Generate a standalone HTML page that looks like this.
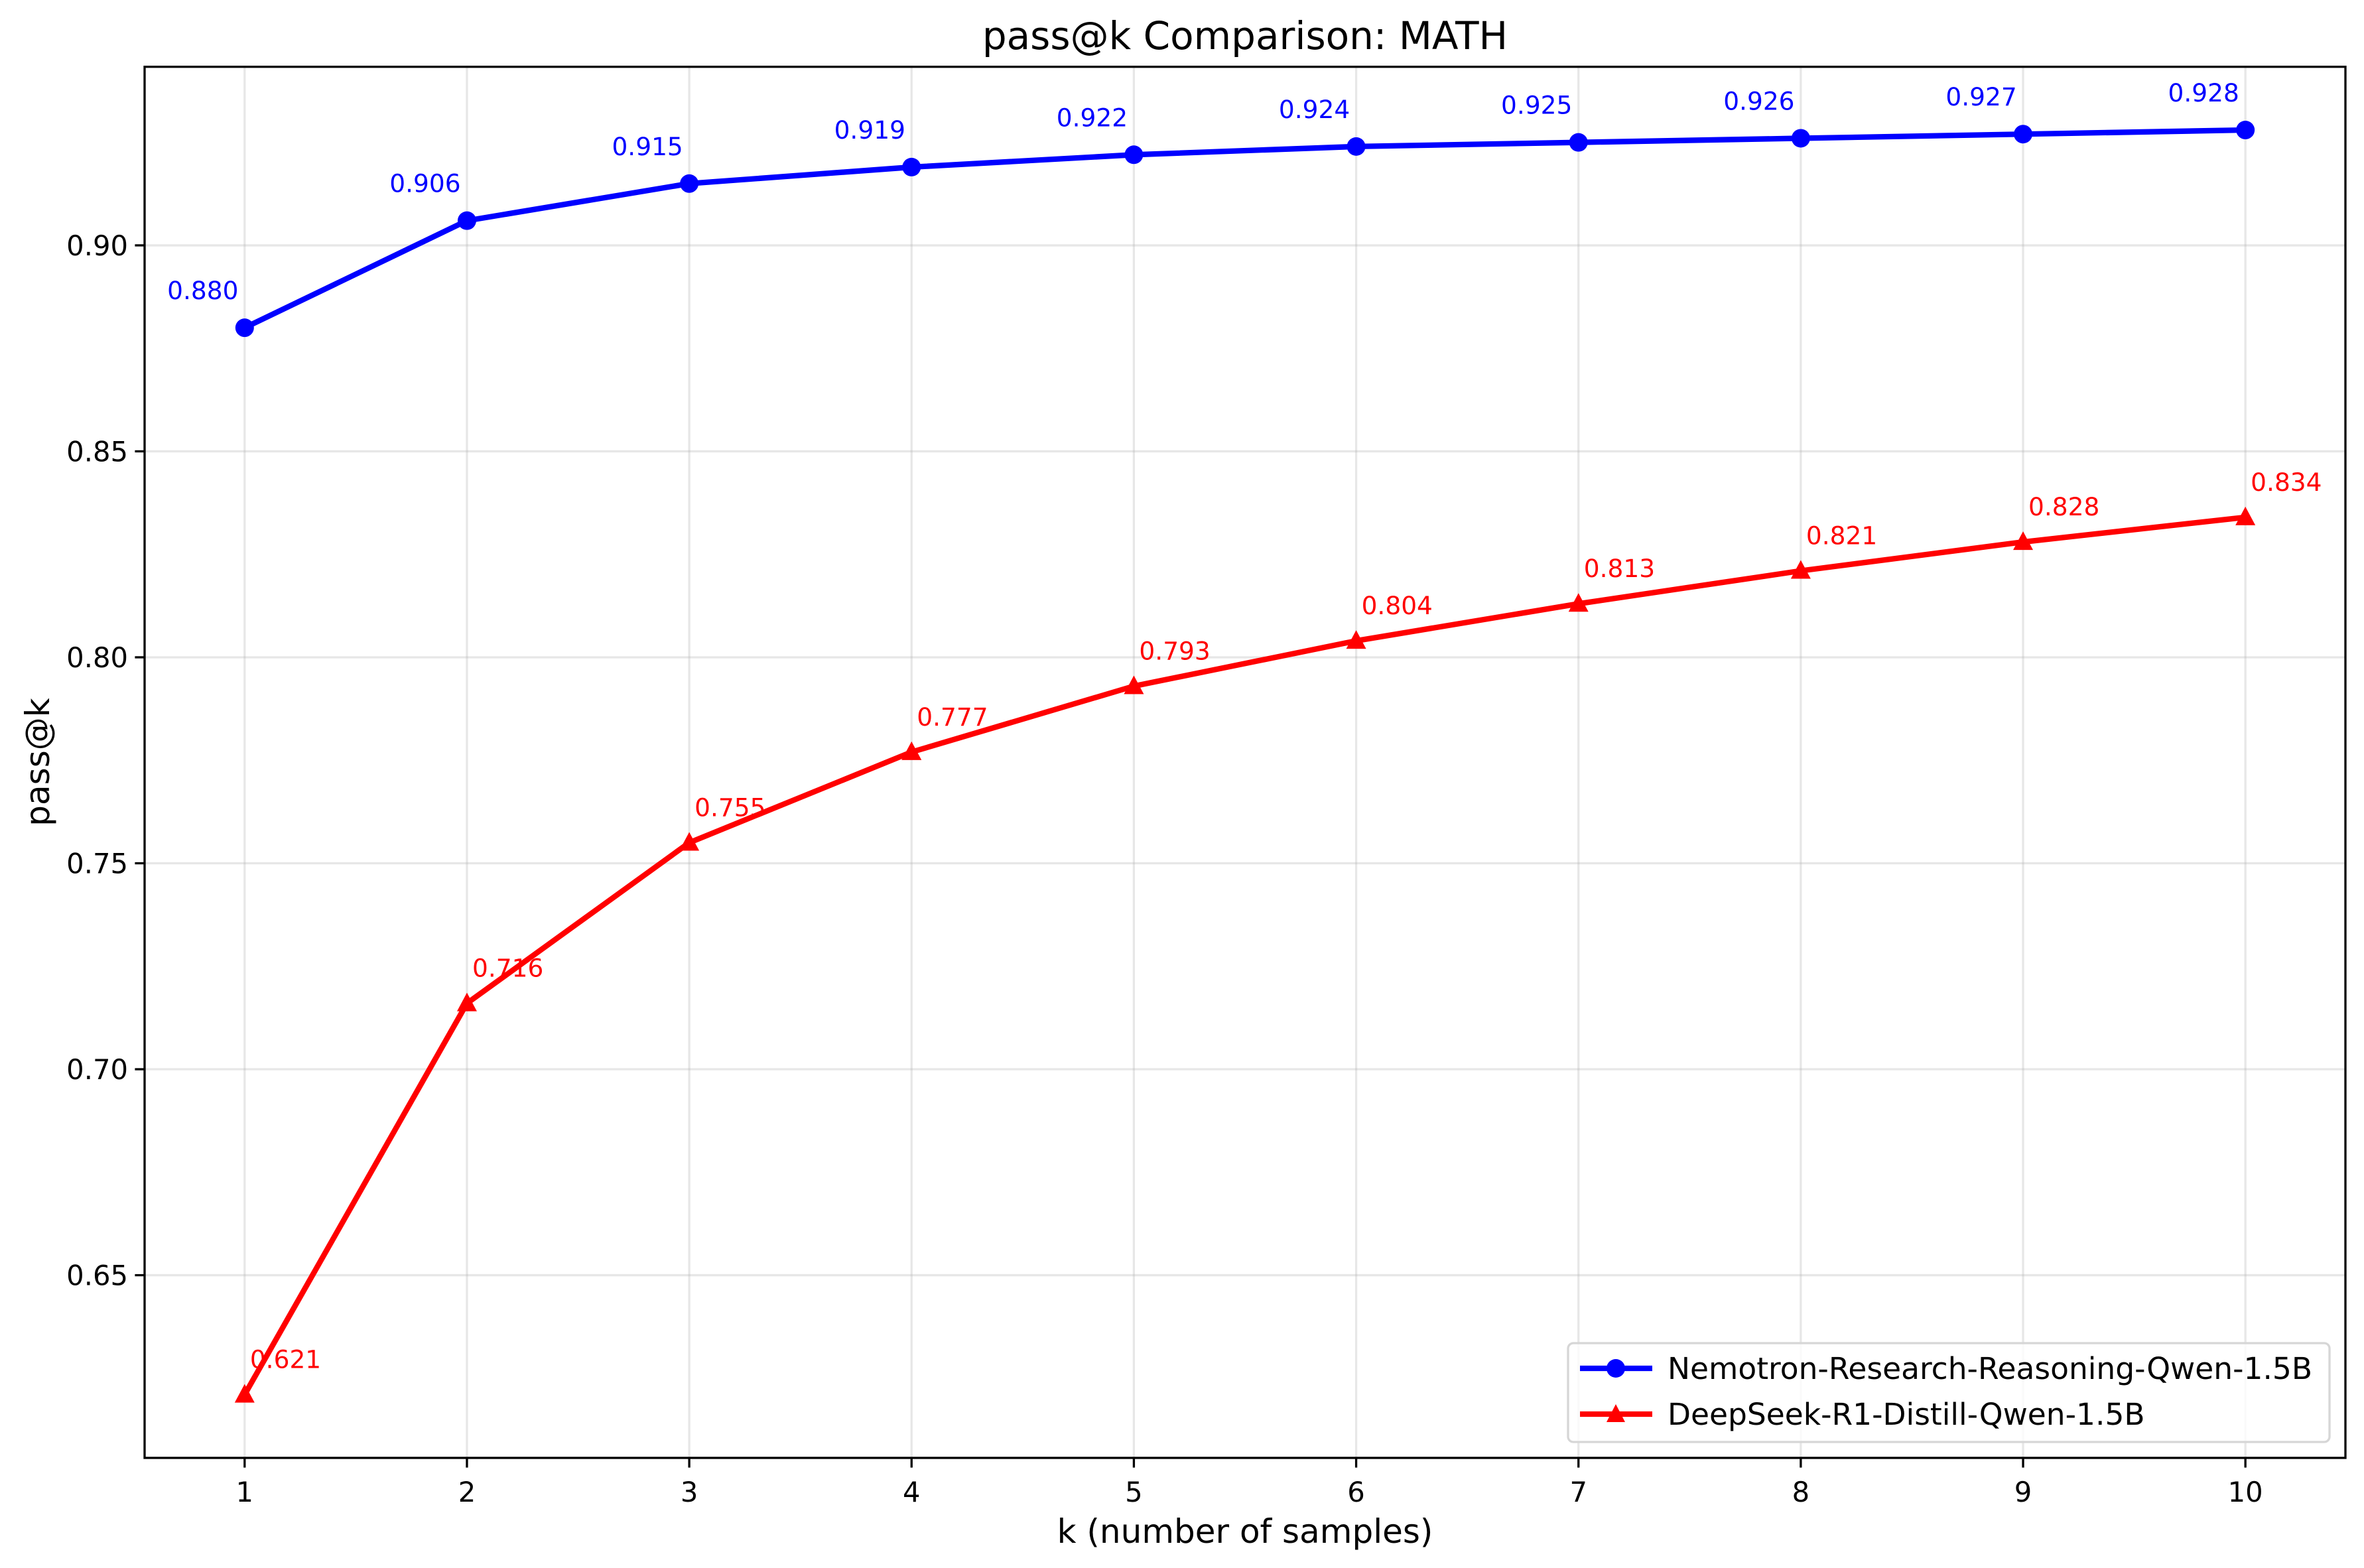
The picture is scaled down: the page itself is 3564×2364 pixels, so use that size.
<!DOCTYPE html>
<html><head><meta charset="utf-8"><style>
html,body{margin:0;padding:0;background:#fff}
svg{display:block}
text{font-family:"DejaVu Sans","Liberation Sans",sans-serif}
</style></head><body>
<svg id="chart" width="3564" height="2364" viewBox="0 0 3564 2364" xmlns="http://www.w3.org/2000/svg">
<rect width="3564" height="2364" fill="#fff"/>
<g id="grid"></g>
<g id="series"></g>
<rect x="218" y="100.7" width="3318" height="2097.3" fill="none" stroke="#000" stroke-width="3.3"/>
<g id="ticks"></g>
<text x="1877" y="74" font-size="58" text-anchor="middle">pass@k Comparison: MATH</text>
<text x="1877" y="2326" font-size="50" text-anchor="middle">k (number of samples)</text>
<text transform="translate(74,1149) rotate(-90)" font-size="50" text-anchor="middle">pass@k</text>
<g>
<rect x="2364" y="2025" width="1148" height="149" rx="8" fill="#fff" fill-opacity="0.8" stroke="#d6d6d6" stroke-width="3.3"/>
<g>
<line x1="2382" y1="2063" x2="2491" y2="2063" stroke="#0000ff" stroke-width="8.3"/>
<circle cx="2436" cy="2063" r="14" fill="#0000ff"/>
<text x="2514" y="2079" font-size="45.5">Nemotron-Research-Reasoning-Qwen-1.5B</text>
</g>
<g>
<line x1="2382" y1="2132" x2="2491" y2="2132" stroke="#ff0000" stroke-width="8.3"/>
<polygon points="2436,2117 2450,2144 2422,2144" fill="#ff0000"/>
<text x="2514" y="2148" font-size="45.5">DeepSeek-R1-Distill-Qwen-1.5B</text>
</g>
</g>
</svg>
<script>
const ks = [1,2,3,4,5,6,7,8,9,10];
const nemotron = [0.880,0.906,0.915,0.919,0.922,0.924,0.925,0.926,0.927,0.928];
const deepseek = [0.621,0.716,0.755,0.777,0.793,0.804,0.813,0.821,0.828,0.834];
const yTicks = [0.65,0.70,0.75,0.80,0.85,0.90];
const yTickLabels = ["0.65","0.70","0.75","0.80","0.85","0.90"];

const NS = "http://www.w3.org/2000/svg";
const L=218, R=3536, T=100.7, B=2198;
const xMin=0.55, xMax=10.45, yMin=0.60565, yMax=0.94335;
const xs = v => L + (v-xMin)/(xMax-xMin)*(R-L);
const ys = v => B - (v-yMin)/(yMax-yMin)*(B-T);
function mk(tag, attrs, parent){const e=document.createElementNS(NS,tag);for(const k in attrs)e.setAttribute(k,attrs[k]);parent.appendChild(e);return e;}
const grid=document.getElementById('grid'), ticks=document.getElementById('ticks'), series=document.getElementById('series');

ks.forEach(k=>{
  const x=xs(k);
  const g=mk('line',{x1:x,y1:T,x2:x,y2:B,stroke:'#b0b0b0','stroke-opacity':0.3,'stroke-width':3.3},grid);
  
  
  const t=mk('line',{x1:x,y1:B,x2:x,y2:B+14.6,stroke:'#000','stroke-width':3.3},ticks);
  
  
  const lb=mk('text',{x:x,y:2264,'font-size':41.7,'text-anchor':'middle'},ticks);
  lb.textContent=String(k);
  
  
});
yTicks.forEach((v,i)=>{
  const y=ys(v);
  const g=mk('line',{x1:L,y1:y,x2:R,y2:y,stroke:'#b0b0b0','stroke-opacity':0.3,'stroke-width':3.3},grid);
  
  
  const t=mk('line',{x1:L-14.6,y1:y,x2:L,y2:y,stroke:'#000','stroke-width':3.3},ticks);
  
  
  const lb=mk('text',{x:L-25,y:y+15,'font-size':41.7,'text-anchor':'end'},ticks);
  lb.textContent=yTickLabels[i];
  
  
});

function drawSeries(vals,color,marker,name,labelDx,labelDy,anchor){
  const g=mk('g',{},series);
  
  
  const pl=mk('polyline',{points:ks.map((k,i)=>xs(k)+','+ys(vals[i])).join(' '),fill:'none',stroke:color,'stroke-width':8.3,'stroke-linejoin':'round'},g);
  
  
  ks.forEach((k,i)=>{
    const x=xs(k),y=ys(vals[i]);
    let m;
    if(marker==='circle') m=mk('circle',{cx:x,cy:y,r:14,fill:color},g);
    else m=mk('polygon',{points:`${x},${y-16} ${x+15},${y+12} ${x-15},${y+12}`,fill:color},g);
    
    
    const t=mk('text',{x:x+labelDx,y:y+labelDy,'font-size':37.5,fill:color,'text-anchor':anchor},g);
    t.textContent=vals[i].toFixed(3);
    
    
  });
}
drawSeries(nemotron,'#0000ff','circle','nemotron',-63,-43,'middle');
drawSeries(deepseek,'#ff0000','triangle','deepseek',8,-40,'start');
</script>
</body></html>
